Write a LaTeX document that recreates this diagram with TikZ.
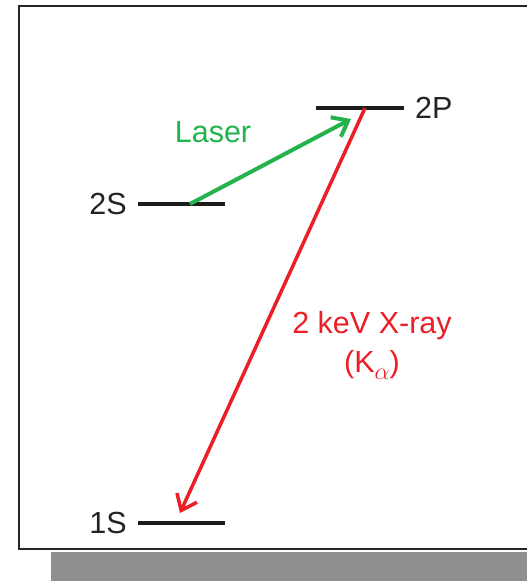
\RequirePackage{fix-cm}
\documentclass[tikz,border=0pt]{standalone}
\usepackage{fontspec}
\setmainfont{Liberation Sans}
\usetikzlibrary{arrows.meta}
\definecolor{lasergreen}{RGB}{36,178,76}
\definecolor{xred}{RGB}{236,30,38}
\definecolor{levelblack}{RGB}{28,28,28}
\definecolor{labelgray}{RGB}{35,35,35}
\definecolor{shadowgray}{RGB}{143,143,143}
\newcommand{\subalpha}{\raisebox{-0.45ex}{\fontsize{24}{24}\selectfont$\alpha$}}
\begin{document}
\begin{tikzpicture}[x=1pt,y=-1pt,
  lvl/.style={line width=4pt, draw=levelblack},
  lbl/.style={inner sep=0pt, font=\fontsize{30.5}{36}\selectfont, text=labelgray},
  greenarrow/.style={line width=4pt, draw=lasergreen, -{Straight Barb[length=14pt,width=22pt]}},
  redarrow/.style={line width=3.5pt, draw=xred, -{Straight Barb[length=14pt,width=22pt]}},
  redtext/.style={inner sep=0pt, font=\fontsize{30.5}{36}\selectfont, text=xred, align=center},
  greentext/.style={inner sep=0pt, font=\fontsize{30.5}{36}\selectfont, text=lasergreen}]
\useasboundingbox (0,0) rectangle (527,581);
\clip (0,0) rectangle (527,581);
\fill[white] (0,0) rectangle (527,581);
\fill[shadowgray] (51,552) rectangle (527,581);
\draw[line width=2pt, draw=black!85] (19,6) rectangle (560,549);
% levels
\coordinate (p2L) at (316,108); \coordinate (p2R) at (404,108);
\coordinate (s2L) at (138,204); \coordinate (s2R) at (225,204);
\coordinate (s1L) at (138,523); \coordinate (s1R) at (225,523);
\draw[lvl] (p2L) -- (p2R);
\draw[lvl] (s2L) -- (s2R);
\draw[lvl] (s1L) -- (s1R);
% labels
\node[lbl, anchor=base west] (l2p) at (415,118) {2P};
\node[lbl, anchor=base east] (l2s) at (127,214) {2S};
\node[lbl, anchor=base east] (l1s) at (127,533) {1S};
\node[greentext, anchor=base] (laser) at (213,142) {Laser};
\node[redtext, anchor=base] (xray) at (372,333) {2 keV X-ray};
\node[redtext, anchor=base] (kalpha) at (372,372) {(K\subalpha)};
% transitions
\coordinate (lasS) at (190,204); \coordinate (lasE) at (351,119);
\coordinate (xS) at (365,108); \coordinate (xE) at (180,513);
\draw[greenarrow] (lasS) -- (lasE);
\draw[redarrow] (xS) -- (xE);
\end{tikzpicture}
\end{document}
